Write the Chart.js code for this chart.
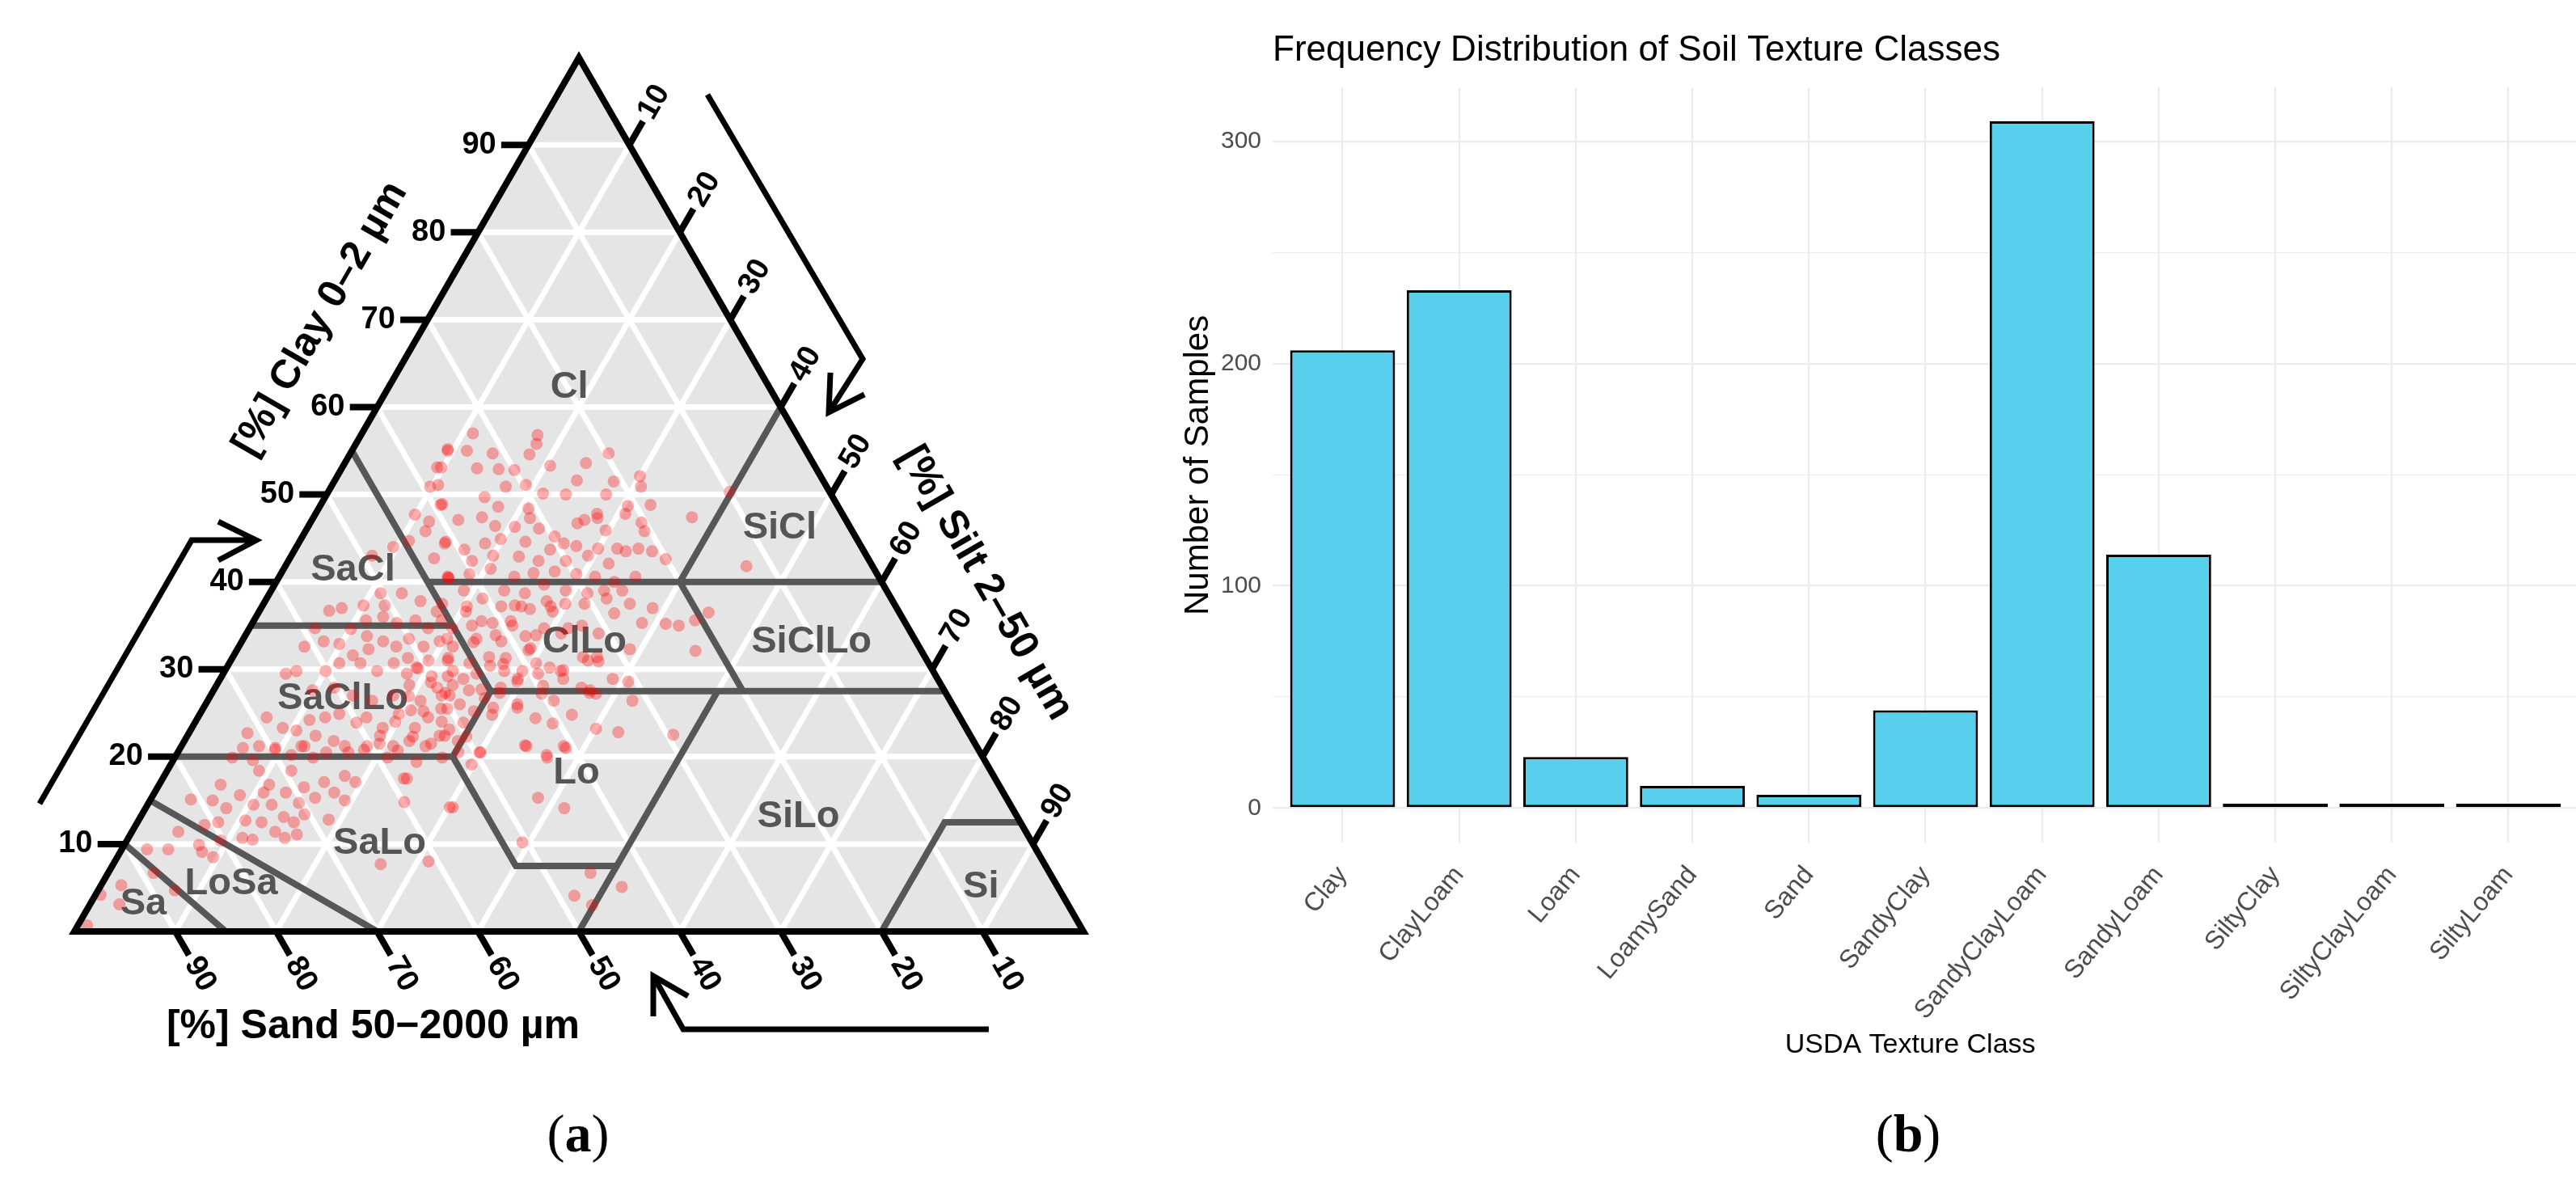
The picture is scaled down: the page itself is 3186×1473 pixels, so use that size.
<!DOCTYPE html>
<html>
<head>
<meta charset="utf-8">
<script src="https://cdn.jsdelivr.net/npm/chart.js@4.4.1/dist/chart.umd.min.js"></script>
<style>
  html, body { margin: 0; padding: 0; background: #fff; width: 3186px; height: 1473px; overflow: hidden; }
  #tern { position: absolute; left: 0; top: 0; }
  #bars { position: absolute; left: 1440px; top: 0; }
  .cap { position: absolute; top: 1362px; font-family: 'Liberation Serif', 'Times New Roman', serif; font-size: 66px; line-height: 80px; transform: translateX(-50%); white-space: nowrap; }
</style>
</head>
<body>
<canvas id="tern" width="1420" height="1473"></canvas>
<canvas id="bars" width="1749" height="1473"></canvas>
<div class="cap" style="left:715px">(<b>a</b>)</div>
<div class="cap" style="left:2360px">(<b>b</b>)</div>
<script>
// ---- data ----
const textureClasses = ['Clay', 'ClayLoam', 'Loam', 'LoamySand', 'Sand', 'SandyClay', 'SandyClayLoam', 'SandyLoam', 'SiltyClay', 'SiltyClayLoam', 'SiltyLoam'];
const sampleCounts = [206, 233, 23, 10, 6, 44, 309, 114, 2, 2, 2];
const countTicks = [0, 100, 200, 300];
const pctTicks = [10, 20, 30, 40, 50, 60, 70, 80, 90];

// USDA class labels: [name, sand %, clay %]
const classLabels = [
  ['Cl', 19.8, 62.3], ['SiCl', 7, 46.2], ['SaCl', 51.7, 41.4], ['ClLo', 32.9, 33.1],
  ['SiClLo', 10.4, 33.1], ['SaClLo', 60.1, 26.6], ['Lo', 41.2, 18.1], ['SiLo', 21.7, 13.1],
  ['SaLo', 64.7, 10.1], ['LoSa', 81.7, 5.5], ['Sa', 91.6, 3.1], ['Si', 7.6, 5.1]
];

// USDA class borders, polylines of [sand %, clay %]
const classBorders = [
  [[90, 10], [85, 0]],
  [[85, 15], [70, 0]],
  [[80, 20], [52.5, 20], [52.5, 7.5], [42.5, 7.5]],
  [[50, 0], [22.5, 27.5]],
  [[52.5, 20], [45, 27.5], [45, 55]],
  [[65, 35], [45, 35]],
  [[45, 27.5], [0, 27.5]],
  [[45, 40], [0, 40]],
  [[20, 27.5], [20, 40], [0, 60]],
  [[20, 0], [7.5, 12.5], [0, 12.5]]
];

// soil samples: [sand %, clay %]
const samples = [
  [32,57],[25.7,56.8],[26.3,55.8],[35.5,55],[33.6,55],[31.2,54.7],[27.6,54.6],[19.7,54.7],[22.5,53.6],[33.6,53],
  [31.5,52.9],[30,52.8],[26.2,53.3],[24.4,51.6],[20.8,51.5],[17.9,52.1],[18.4,50.9],[29.7,51.1],[31.8,50.9],[37.1,53.1],
  [38.4,51.1],[34.5,49.7],[28.5,50.1],[26.3,50],[22.3,50],[20.8,48.7],[18.5,48.8],[30.8,48.4],[33.7,48.6],[39.1,48.9],
  [24.3,47.8],[21.5,47.8],[38.4,47.1],[35.9,47.4],[35.1,46.4],[33.2,46.3],[30.9,46.1],[29.8,45.2],[26.8,46.7],[25.9,47.1],
  [24.4,45.9],[20.4,46.8],[20.6,45.8],[15.1,47.4],[24.5,47.3],[31.2,47.3],[41.1,44.4],[39.5,43.7],[37.1,44.4],[35.3,44.9],
  [34.5,42.9],[33,44.6],[31,43.7],[29.3,44.4],[28.2,44.1],[26.2,43.8],[24.3,43.8],[23.6,43.5],[22.2,43.8],[21,43.5],
  [20.1,42.6],[12.5,41.8],[39.4,42.4],[37,43],[32.8,42.4],[30.1,42.4],[27.6,43],[26,42.1],[42.7,40.4],[40.4,40.9],
  [38,41.5],[36.1,40.6],[34,41],[31.8,41.2],[29.8,40.9],[28.1,40.6],[26.5,40],[24.1,40.6],[33.6,39.7],[37.9,39],
  [41.9,39],[36,38.7],[31.8,39],[29.8,38.7],[28,39],[26.2,39],[9.9,50.3],[44.8,37.5],[42.9,36.6],[40.5,38.1],
  [39.1,37.2],[37.7,37.3],[36.4,36.9],[34.3,37.8],[34.3,36.6],[32.6,37.5],[30.7,37.5],[28.2,38.1],[28.3,36.4],[26.2,37.5],
  [24.2,37],[26.1,35.3],[23.8,35.2],[20.7,35.6],[18.9,36.5],[45.2,34.7],[43.1,35],[40.9,35.3],[39.1,35],[38.4,33.8],
  [36.1,34.7],[34.7,34.1],[32.2,35],[31,34.1],[22.6,35],[22.4,32.1],[28.8,32.3],[43.4,33.5],[41.1,33.2],[38.6,32.4],
  [46.2,32.6],[47.5,31],[45.5,30.7],[43.6,30.4],[41.6,31.3],[40.7,29.8],[38.9,30.7],[37.8,30.2],[36.6,29.9],[33.6,31],
  [32.6,30.9],[45.4,29.5],[42.5,29.8],[37.1,28.9],[39.3,29.5],[48.4,28.2],[47.1,27.6],[43.8,27.9],[41.8,28.6],[40.1,27.2],
  [35.8,27.9],[35.1,27.6],[34.7,27.2],[32.2,28.9],[30.8,28.6],[31.5,26.4],[50.1,27],[46,26.7],[50.3,25.5],[49.5,23.9],
  [52.1,22.4],[51.1,21.8],[45.7,25.6],[43.3,25.6],[44.7,21.3],[40.7,23.8],[40.9,21.2],[36.7,23.2],[34.7,22.8],[29.4,22.5],
  [49.5,20.5],[43.1,20.2],
  [35.4,55.2],[37.5,53.1],[39.3,50.9],[39.3,48.8],[42.4,47.7],[41.4,46.9],[42.3,45.8],[40.9,44.6],[44.5,44.7],[43,42.7],
  [42.7,40.6],[46.4,44],[49,43],[50.3,38.7],[48.2,38.7],[52.7,37.3],[50.6,37.3],[46.8,37.8],[56.4,36.7],[55,37],
  [53.3,35.6],[51.4,36],[50.4,35.3],[48.4,35.6],[45.8,36.6],[47.6,34.7],[45.8,35.6],[58.8,34.7],[55.3,34.6],[60.9,32.6],
  [58.7,33.2],[57.3,32.9],[56.6,31.6],[54.7,32.3],[52.8,33.2],[51.8,32.6],[50.1,33.5],[49.1,32.6],[47.2,33.2],[47.3,31.3],
  [64.3,29.5],[63.1,29.8],[60.2,29.8],[58.4,30.7],[56.3,30.7],[55.1,29.8],[53,30.7],[52.3,29.5],[50.9,30.1],[50,29.2],
  [48.4,29.2],[68.7,24.5],[67.7,23.3],[66.5,23],[64.6,24.2],[62.9,24.5],[61.3,24.9],[60.1,23.9],[58.8,24.5],[57.8,23.3],
  [55.4,24.9],[54.6,23.3],[52.7,24.5],[50.9,25.5],[71.5,22.7],[71.1,21.2],[69.7,20.8],[66.9,21.2],[64.9,22.4],[63.4,21.8],
  [62.6,20.5],[60.4,21.2],[58.5,22.4],[57.8,21.2],[55.9,21.8],[54.6,21.2],[52.6,22.4],[49.3,27],[54.1,33.8],[51.3,31.3],
  [49.4,31],[46.3,33.5],[54.9,27],[52.5,26.4],[50.1,27.9],[57.3,26.4],[58.9,27],[60.3,27.9],[62.6,27.6],[52.7,28.2],
  [72.8,21],[69.6,21],[66.6,21.2],[64.8,20.5],[62.6,21.2],[60.9,20.8],[59,19.9],[74.4,19.9],[72.5,19.6],[68.4,20.2],
  [66.4,19.9],[72.5,18.4],[72.3,16.8],[69.3,18.4],[69,16.5],[66.7,17.1],[66.3,15.9],[64.3,17.8],[63.6,17.1],[58.3,17.5],
  [59.9,14.8],[77.1,16.8],[75.8,15.6],[73.3,15.9],[71.1,15.9],[70.4,14.7],[68.5,15.3],[65.7,15],[80.9,15.1],[78.8,15],
  [77.9,14.1],[75,14.5],[73.2,14.5],[72.7,13.1],[72,12.5],[70.5,13.4],[68.4,12.8],[55.7,14.2],[76.7,12.7],[79.5,12.5],
  [75.2,12.5],[74.4,11.4],[73.8,10.7],[72.4,11.1],[78,10.7],[77.1,10.5],[84,11.4],[81,12.2],[88.1,9.4],[86,9.4],
  [82.7,9.9],[82.8,9.1],[82,8.5],[80.3,10.4],[88.8,6.7],[92.7,5.3],[94,3.1],[87.7,4.7],[95.3,4.2],[65.8,7.7],
  [60.9,8],[98.4,0.7],[58.6,17.5],[54,25.3],
  [53.6,19.9],[51.7,20.5],[51.1,19.1],[49.6,20.5],[44.6,21.2],[43.2,19.9],[40.8,21],[55.4,14.2],[46.4,15.3],[44.4,14.1],
  [50.5,10.2],[45.5,6.7],[43.2,5.1],[48.4,4.1],[47.2,3],
  [42.7,40.5],[42.5,37.2],[41.9,35.5],[41.3,33.9],[39,35.5],[38.9,32.2],[37.3,33.9],[43.9,33.1],[43.2,31.4],[42.2,30.6],
  [47.6,29.8],[51,30.2],[50.4,28.5],[49.6,27.3],[47,28.9],[45.8,27.7],[53.4,26.9],[52.8,25.2],[51.6,24],[48.8,26],
  [47.8,25.2],[56.2,24],[55.3,22.3],[53.9,21.5],[51.3,23.1],[50,22.3],[59,21.5],[57.6,20.7],[56.4,19.4],[37.1,37.2],
  [34.2,37.2],[33.7,34.7],[33.9,31.4],[36.9,29.8],[39.5,28.1],[41.6,28.9],[44.2,27.3],[46.2,24.8],[43.1,26],[42.1,24.4],
  [39.3,26.4],[38.3,24.8],[35.3,27.3],[32.5,31.4]
];

// direction arrows beside the axes, in plot units (side of triangle = 100)
const arrowPaths = [
  [[-3.45, 12.66], [11.62, 38.78], [18.03, 38.78]],
  [[14.26, 40.62], [18.03, 38.78], [14.26, 36.78]],
  [[62.74, 82.93], [78.12, 56.73], [74.76, 51.44]],
  [[74.92, 55.37], [74.76, 51.44], [78.29, 53.21]],
  [[90.62, -9.7], [60.34, -9.7], [57.37, -4.41]],
  [[57.37, -8.41], [57.37, -4.41], [60.82, -6.41]]
];

Chart.defaults.font.family = "'Liberation Sans', Arial, sans-serif";

// ---- ternary helpers ----
const H = Math.sqrt(3) / 2;
const TICK = 2.7;   // tick length
const GAP = 0.5;    // gap tick -> label

function tern(sand, clay) {
  return { x: 100 - sand - clay / 2, y: clay * H };
}

// join several polylines into one dataset, broken by gaps
function withGaps(lines) {
  const out = [];
  lines.forEach(l => {
    l.forEach(p => out.push(p));
    out.push({ x: NaN, y: NaN });
  });
  return out;
}

const gridLines = [];
pctTicks.forEach(k => {
  gridLines.push([tern(100 - k, k), tern(0, k)]);       // clay
  gridLines.push([tern(k, 0), tern(k, 100 - k)]);       // sand
  gridLines.push([tern(100 - k, 0), tern(0, 100 - k)]); // silt
});

const tickLines = [];
pctTicks.forEach(k => {
  const c = tern(100 - k, k);
  tickLines.push([c, { x: c.x - TICK, y: c.y }]);
  const s = tern(k, 0);
  tickLines.push([s, { x: s.x + TICK / 2, y: -TICK * H }]);
  const t = tern(0, 100 - k);
  tickLines.push([t, { x: t.x + TICK / 2, y: t.y + TICK * H }]);
});

function lineSet(label, data, color, width, order) {
  return {
    label, data, order, showLine: true, spanGaps: false,
    borderColor: color, borderWidth: width, pointRadius: 0,
    borderCapStyle: 'butt', borderJoinStyle: 'miter', fill: false
  };
}

const ternaryText = {
  id: 'ternaryText',
  afterDatasetDraw(chart, args) {
    if (chart.data.datasets[args.index].label !== 'borders') return;
    const { ctx, scales: { x, y } } = chart;
    ctx.save();
    ctx.fillStyle = '#555555';
    ctx.font = "bold 47px 'Liberation Sans', Arial, sans-serif";
    ctx.textAlign = 'center';
    ctx.textBaseline = 'middle';
    classLabels.forEach(([name, sand, clay]) => {
      const p = tern(sand, clay);
      ctx.fillText(name, x.getPixelForValue(p.x), y.getPixelForValue(p.y));
    });
    ctx.restore();
  },
  afterDatasetsDraw(chart) {
    const { ctx, scales: { x, y } } = chart;
    const put = (text, px, py, rot, align) => {
      ctx.save();
      ctx.translate(x.getPixelForValue(px), y.getPixelForValue(py));
      ctx.rotate(rot);
      ctx.textAlign = align;
      ctx.fillText(text, 0, 0);
      ctx.restore();
    };
    ctx.save();
    ctx.fillStyle = '#000';
    ctx.textBaseline = 'middle';
    ctx.font = "bold 38px 'Liberation Sans', Arial, sans-serif";
    const d = TICK + GAP;
    pctTicks.forEach(k => {
      const c = tern(100 - k, k);
      put(String(k), c.x - d, c.y, 0, 'right');
      const s = tern(k, 0);
      put(String(k), s.x + d / 2, -d * H, Math.PI / 3, 'left');
      const t = tern(0, 100 - k);
      put(String(k), t.x + d / 2, t.y + d * H, -Math.PI / 3, 'left');
    });
    ctx.font = "bold 50px 'Liberation Sans', Arial, sans-serif";
    put('[%] Clay 0\u20132 \u00b5m', 24.4, 60.7, -Math.PI / 3, 'center');
    put('[%] Silt 2\u201350 \u00b5m', 90.3, 34.5, Math.PI / 3, 'center');
    put('[%] Sand 50\u22122000 \u00b5m', 29.6, -9.5, 0, 'center');
    ctx.restore();
  }
};

// ---- (a) soil texture triangle ----
new Chart(document.getElementById('tern'), {
  type: 'scatter',
  data: {
    datasets: [
      lineSet('outline', [tern(100, 0), tern(0, 0), tern(0, 100), tern(100, 0), tern(0, 0)], '#000', 8, 0),
      lineSet('ticks', withGaps(tickLines), '#000', 8, 0),
      lineSet('arrows', withGaps(arrowPaths.map(a => a.map(p => ({ x: p[0], y: p[1] })))), '#000', 7, 0),
      {
        label: 'samples', order: 1,
        data: samples.map(p => tern(p[0], p[1])),
        pointRadius: 7.5, pointBorderWidth: 0,
        backgroundColor: 'rgba(255,0,0,0.32)', borderColor: 'rgba(0,0,0,0)'
      },
      lineSet('borders', withGaps(classBorders.map(l => l.map(p => tern(p[0], p[1])))), '#575757', 8, 2),
      lineSet('grid', withGaps(gridLines), '#ffffff', 7, 3),
      {
        label: 'fill', order: 4, showLine: true,
        data: [tern(100, 0), tern(0, 100), tern(0, 0)],
        borderWidth: 0, pointRadius: 0, fill: 'origin', backgroundColor: '#e5e5e5'
      }
    ]
  },
  options: {
    responsive: false, animation: false, devicePixelRatio: 1, events: [],
    layout: { padding: 0, autoPadding: false },
    plugins: { legend: { display: false }, tooltip: { enabled: false } },
    scales: {
      x: { type: 'linear', display: false, min: -92 / 12.48, max: 1328 / 12.48 },
      y: { type: 'linear', display: false, min: -321 / 12.48, max: 1152 / 12.48 }
    }
  },
  plugins: [ternaryText]
});

// ---- (b) frequency of texture classes ----
new Chart(document.getElementById('bars'), {
  type: 'bar',
  data: {
    labels: textureClasses.map((c, i) => i),
    datasets: [{
      data: sampleCounts,
      backgroundColor: '#58CFEC',
      borderColor: '#000',
      borderWidth: 3,
      borderSkipped: false,
      barPercentage: 0.9,
      categoryPercentage: 1
    }]
  },
  options: {
    responsive: false, animation: false, devicePixelRatio: 1, events: [],
    layout: { padding: 0 },
    plugins: {
      legend: { display: false },
      tooltip: { enabled: false },
      title: {
        display: true, text: 'Frequency Distribution of Soil Texture Classes',
        align: 'start', fullSize: false, color: '#000',
        font: { size: 44, weight: 'normal' }, padding: { top: 36, bottom: 20 }
      }
    },
    scales: {
      x: {
        type: 'linear', min: -0.6, max: 10.6, offset: false,
        grid: { offset: false, color: '#ebebeb', lineWidth: 2.2, drawTicks: false },
        border: { display: false },
        ticks: {
          stepSize: 1, includeBounds: false, autoSkip: false,
          minRotation: 50, maxRotation: 50, padding: 22,
          color: '#4d4d4d', font: { size: 32 },
          callback: v => textureClasses[v]
        },
        // trailing spaces pull the centred title a little to the left, as in the original
        title: { display: true, text: 'USDA Texture Class    ', color: '#000', font: { size: 34 }, padding: { top: 0, bottom: 160 } },
        afterFit: s => { s.height = 431; }
      },
      y: {
        min: -15.5, max: 324,
        grid: { color: '#ebebeb', lineWidth: c => (c.tick && c.tick.value % 100 === 0) ? 2.2 : 1.1, drawTicks: false },
        border: { display: false },
        ticks: {
          stepSize: 50, includeBounds: false, padding: 14,
          color: '#4d4d4d', font: { size: 30 },
          callback: v => countTicks.includes(v) ? String(v) : ''
        },
        title: { display: true, text: 'Number of Samples', color: '#000', font: { size: 42 }, padding: { top: 17, bottom: 0 } },
        afterFit: s => { s.width = 134; }
      }
    }
  }
});
</script>
</body>
</html>
